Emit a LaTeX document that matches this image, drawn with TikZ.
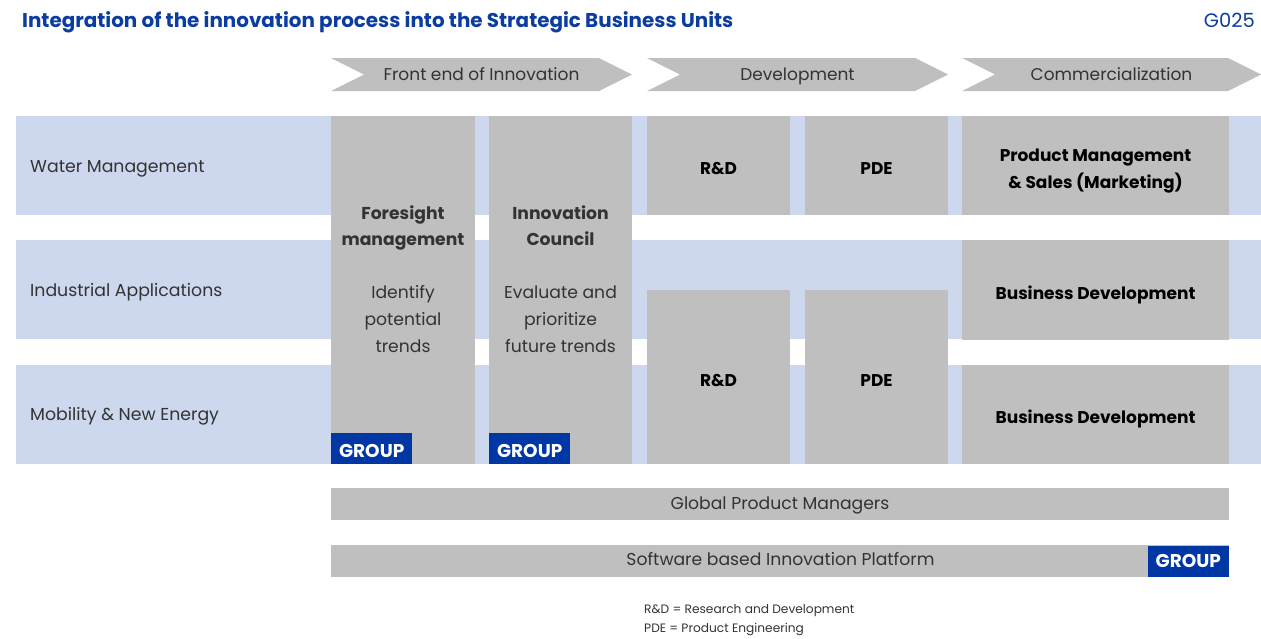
\documentclass[tikz,border=0pt]{standalone}
\usepackage{fontspec}
\setmainfont{Poppins}
\definecolor{bandblue}{HTML}{CDD8EE}
\definecolor{boxgray}{HTML}{BEBFBE}
\definecolor{grpblue}{HTML}{0037A4}
\definecolor{titleblue}{HTML}{0B3C9F}
\definecolor{txtgray}{HTML}{333333}

\tikzset{
  band/.style={fill=bandblue,anchor=north west,inner sep=0pt,minimum width=1245pt,minimum height=99pt},
  gbox/.style={fill=boxgray,anchor=north west,inner sep=0pt},
  grp/.style={fill=grpblue,anchor=south west,inner sep=0pt,minimum width=81pt,minimum height=31pt},
  grptxt/.style={anchor=base,text=white,inner sep=0pt,font=\bfseries\fontsize{18.5}{20}\selectfont},
  btxt/.style={anchor=base,align=center,inner sep=0pt,text=black,font=\bfseries\fontsize{17}{27}\selectfont},
  ptxt/.style={anchor=base,align=center,inner sep=0pt,text=txtgray,font=\fontsize{17.2}{26.6}\selectfont},
  rowlbl/.style={anchor=base west,inner sep=0pt,text=txtgray,font=\fontsize{17.3}{20}\selectfont},
}

\begin{document}
\begin{tikzpicture}[x=1pt,y=-1pt]
      \useasboundingbox (0,0) rectangle (1261,638);
      % title
      \node[anchor=base west,inner sep=0pt,text=titleblue,font=\bfseries\fontsize{19.9}{22}\selectfont] (title) at (22,27) {Integration of the innovation process into the Strategic Business Units};
      \node[anchor=base east,inner sep=0pt,text=titleblue,font=\fontsize{19.5}{22}\selectfont] (gnum) at (1255,27) {G025};
      % phases
      \foreach \xa/\xb/\lbl/\nm in {331/632/{Front end of Innovation}/fei,647/948/{Development}/dev,962/1261/{Commercialization}/com}{
        \fill[boxgray] (\xa,58) -- (\xb-33,58) -- (\xb,74.5) -- (\xb-33,91) -- (\xa,91) -- (\xa+33,74.5) -- cycle;
        \node[ptxt,font=\fontsize{17}{20}\selectfont] (\nm) at ({(\xa+\xb)/2},80.5) {\lbl};
      }
      % business units
      \node[band] (water) at (16,116) {};
      \node[band] (indus) at (16,240) {};
      \node[band] (mobil) at (16,365) {};
      \node[rowlbl] (waterlbl) at (30,172) {Water Management};
      \node[rowlbl] (induslbl) at (30,296) {Industrial Applications};
      \node[rowlbl] (mobillbl) at (30,420) {Mobility \& New Energy};
      % front end
      \node[gbox,minimum width=144pt,minimum height=348pt] (fore) at (331,116) {};
      \node[gbox,minimum width=143pt,minimum height=348pt] (council) at (489,116) {};
      \node[ptxt] (foretxt) at (403,352) {\textbf{Foresight}\\\textbf{management}\\[26.6pt]Identify\\potential\\trends};
      \node[ptxt] (counciltxt) at (560.5,352) {\textbf{Innovation}\\\textbf{Council}\\[26.6pt]Evaluate and\\prioritize\\future trends};
      \node[grp] (grpa) at (331,464) {};
      \node[grp] (grpb) at (489,464) {};
      \node[grptxt] at (grpa.center) [yshift=-9pt] (grpatxt) {GROUP};
      \node[grptxt] at (grpb.center) [yshift=-9pt] (grpbtxt) {GROUP};
      % development
      \node[gbox,minimum width=143pt,minimum height=99pt] (rda) at (647,116) {};
      \node[gbox,minimum width=143pt,minimum height=99pt] (pdea) at (805,116) {};
      \node[gbox,minimum width=143pt,minimum height=174pt] (rdb) at (647,290) {};
      \node[gbox,minimum width=143pt,minimum height=174pt] (pdeb) at (805,290) {};
      \node[btxt] (rdatxt) at (718.5,174) {R\&D};
      \node[btxt] (pdeatxt) at (876.5,174) {PDE};
      \node[btxt] (rdbtxt) at (718.5,386) {R\&D};
      \node[btxt] (pdebtxt) at (876.5,386) {PDE};
      % commercialization
      \node[gbox,minimum width=267pt,minimum height=99pt] (pm) at (962,116) {};
      \node[gbox,minimum width=267pt,minimum height=100pt] (bda) at (962,240) {};
      \node[gbox,minimum width=267pt,minimum height=99pt] (bdb) at (962,365) {};
      \node[btxt] (pmtxt) at (1095.5,188) {Product Management\\\& Sales (Marketing)};
      \node[btxt] (bdatxt) at (1095.5,299) {Business Development};
      \node[btxt] (bdbtxt) at (1095.5,423) {Business Development};
      % cross functions
      \node[gbox,minimum width=898pt,minimum height=32pt] (gpm) at (331,488) {};
      \node[gbox,minimum width=898pt,minimum height=32pt] (sip) at (331,545) {};
      \node[ptxt] (gpmtxt) at (780,509) {Global Product Managers};
      \node[ptxt] (siptxt) at (780.5,565) {Software based Innovation Platform};
      \node[grp,anchor=south east] (grpc) at (1229,577) {};
      \node[grptxt] at (grpc.center) [yshift=-6pt] (grpctxt) {GROUP};
      % legend
      \node[anchor=base west,align=left,text=txtgray,font=\fontsize{12.2}{19}\selectfont,inner sep=0pt] (legend) at (644,632) {R\&D = Research and Development\\PDE = Product Engineering};
    \end{tikzpicture}
\end{document}
